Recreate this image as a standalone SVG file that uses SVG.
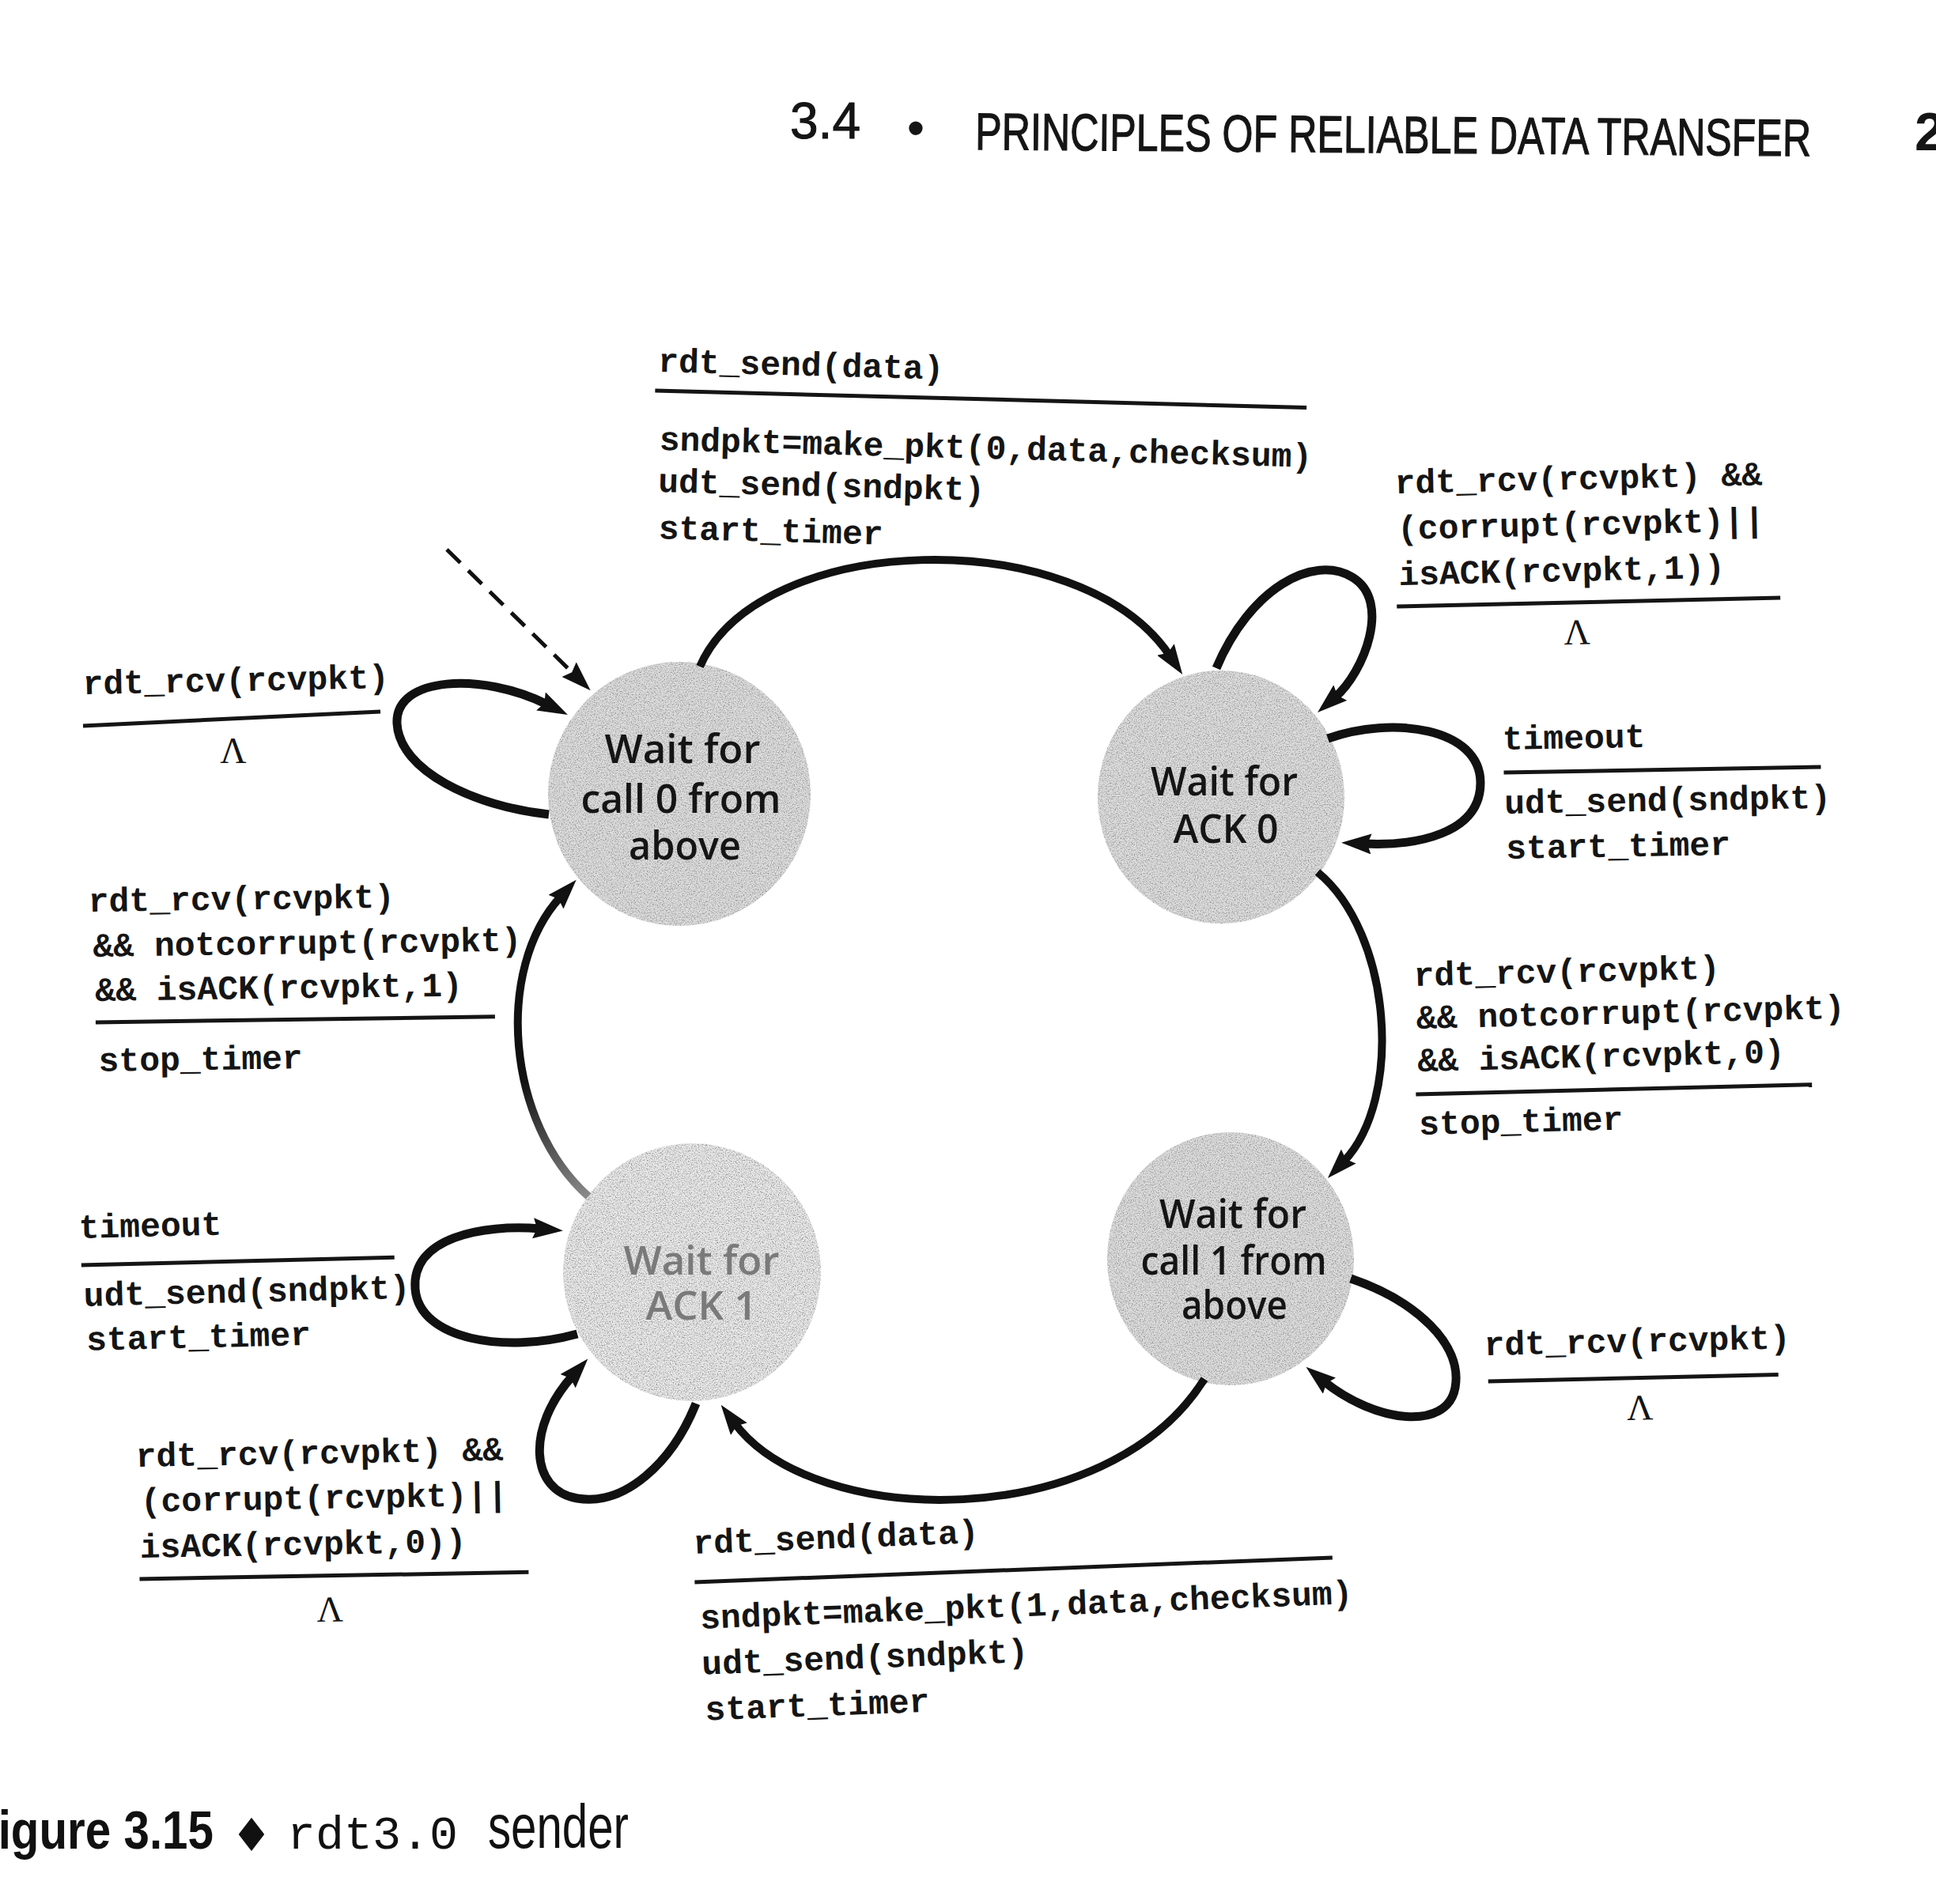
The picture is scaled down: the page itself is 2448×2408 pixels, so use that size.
<svg xmlns="http://www.w3.org/2000/svg" width="2448" height="2408" viewBox="0 0 2448 2408">
<style>
.mono{font-family:"Liberation Mono","DejaVu Sans Mono",monospace;font-size:43px;font-weight:bold;fill:#151515}
.lam{font-family:"Liberation Serif","DejaVu Serif",serif;font-size:46px;fill:#151515;text-anchor:middle}
.st{font-family:"Open Sans","Noto Sans","Liberation Sans",sans-serif;font-size:51px;font-weight:600;fill:#151515;text-anchor:middle}
.rule{stroke:#151515;stroke-width:5;fill:none}
.edge{fill:none;stroke:#111;stroke-width:10;stroke-linecap:butt}
.loop{fill:none;stroke:#111;stroke-width:11;stroke-linecap:butt}
.hdr{font-family:"Liberation Sans","Arial",sans-serif;fill:#151515}
</style>
<defs>
<marker id="ah" viewBox="0 0 38 26" markerWidth="38" markerHeight="26" refX="9" refY="13" orient="auto" markerUnits="userSpaceOnUse">
<path d="M0,0 L38,13 L0,26 L5,13 z" fill="#111"/>
</marker>
<filter id="grain" x="-5%" y="-5%" width="110%" height="110%">
<feTurbulence type="fractalNoise" baseFrequency="0.7" numOctaves="2" seed="7" result="noise"/>
<feColorMatrix in="noise" type="matrix" values="0 0 0 0 0.3 0 0 0 0 0.3 0 0 0 0 0.3 3 0 0 0 -1.3" result="specks"/>
<feComposite in="specks" in2="SourceGraphic" operator="in" result="clip"/>
<feMerge><feMergeNode in="SourceGraphic"/><feMergeNode in="clip"/></feMerge>
</filter>
<linearGradient id="fade" gradientUnits="userSpaceOnUse" x1="744" y1="1513" x2="675" y2="1360">
<stop offset="0" stop-color="#8a8a8a"/>
<stop offset="1" stop-color="#111"/>
</linearGradient>
</defs>
<rect width="2448" height="2408" fill="#fff"/>

<g id="header" class="hdr">
<text x="999" y="175" font-size="64" stroke="#151515" stroke-width="1">3.4</text>
<text x="1158" y="184" font-size="64" text-anchor="middle">•</text>
<text x="1233" y="189" font-size="66" stroke="#151515" stroke-width="1.2" textLength="1057" lengthAdjust="spacingAndGlyphs" transform="rotate(0.45 1233 189)">PRINCIPLES OF RELIABLE DATA TRANSFER</text>
<text x="2421" y="190" font-size="68" font-weight="bold">2</text>
</g>

<g id="nodes">
<g id="node-wait-call0">
<ellipse cx="859" cy="1004" rx="166" ry="167" fill="#dedede" filter="url(#grain)"/>
<text class="st" x="863" y="965" textLength="197" lengthAdjust="spacingAndGlyphs">Wait for</text>
<text class="st" x="861" y="1028" textLength="253" lengthAdjust="spacingAndGlyphs">call 0 from</text>
<text class="st" x="866" y="1087" textLength="142" lengthAdjust="spacingAndGlyphs">above</text>
</g>
<g id="node-wait-ack0">
<ellipse cx="1544" cy="1008" rx="156" ry="160" fill="#dedede" filter="url(#grain)"/>
<text class="st" x="1548" y="1006" textLength="186" lengthAdjust="spacingAndGlyphs">Wait for</text>
<text class="st" x="1550" y="1066" textLength="133" lengthAdjust="spacingAndGlyphs">ACK 0</text>
</g>
<g id="node-wait-ack1">
<ellipse cx="875" cy="1609" rx="163" ry="163" fill="#eaeaea" filter="url(#grain)"/>
<text class="st" x="887" y="1612" textLength="197" lengthAdjust="spacingAndGlyphs" style="fill:#7a7a7a">Wait for</text>
<text class="st" x="887" y="1669" textLength="141" lengthAdjust="spacingAndGlyphs" style="fill:#7a7a7a">ACK 1</text>
</g>
<g id="node-wait-call1">
<ellipse cx="1556" cy="1592" rx="156" ry="160" fill="#dedede" filter="url(#grain)"/>
<text class="st" x="1559" y="1553" textLength="186" lengthAdjust="spacingAndGlyphs">Wait for</text>
<text class="st" x="1560" y="1612" textLength="235" lengthAdjust="spacingAndGlyphs">call 1 from</text>
<text class="st" x="1561" y="1668" textLength="134" lengthAdjust="spacingAndGlyphs">above</text>
</g>
</g>

<g id="connectors">
<path id="e-call0-ack0" class="edge" d="M885,843 C960,671 1365,660 1479,829" marker-end="url(#ah)"/>
<path id="e-ack0-self-top" class="loop" d="M1538,845 C1580,745 1660,700 1710,730 C1760,760 1725,850 1688,882" marker-end="url(#ah)"/>
<path id="e-ack0-self-right" class="loop" d="M1679,934 C1760,905 1872,920 1872,990 C1872,1055 1790,1070 1725,1067" marker-end="url(#ah)"/>
<path id="e-ack0-call1" class="edge" d="M1666,1103 C1760,1180 1775,1390 1699,1469" marker-end="url(#ah)"/>
<path id="e-call1-self" class="loop" d="M1708,1617 C1790,1645 1850,1700 1840,1755 C1830,1810 1740,1800 1674,1747" marker-end="url(#ah)"/>
<path id="e-call1-ack1" class="edge" d="M1523,1744 C1400,1940 1030,1935 929,1800" marker-end="url(#ah)"/>
<path id="e-ack1-self-bottom" class="loop" d="M880,1775 C850,1850 790,1905 730,1895 C670,1885 665,1806 724,1740" marker-end="url(#ah)"/>
<path id="e-ack1-self-left" class="loop" d="M730,1687 C640,1712 530,1695 525,1630 C520,1565 610,1548 683,1554" marker-end="url(#ah)"/>
<path id="e-ack1-call0" class="edge" d="M744,1513 C640,1420 625,1225 709,1134" style="stroke:url(#fade)" marker-end="url(#ah)"/>
<path id="e-call0-self" class="loop" d="M694,1030 C600,1020 505,975 502,915 C499,855 610,850 692,891" marker-end="url(#ah)"/>
<path id="e-initial" d="M565,695 L726,853" fill="none" stroke="#111" stroke-width="5" stroke-dasharray="24,14" marker-end="url(#ah)"/>
</g>

<g id="labels">
<g id="lbl-call0-ack0" transform="rotate(1.5 830 470)">
<text class="mono" x="832" y="470">rdt_send(data)</text>
<line class="rule" x1="829" y1="494" x2="1653" y2="494"/>
<text class="mono" x="836" y="569">sndpkt=make_pkt(0,data,checksum)</text>
<text class="mono" x="836" y="622">udt_send(sndpkt)</text>
<text class="mono" x="838" y="681">start_timer</text>
</g>
<g id="lbl-ack0-self-top" transform="rotate(-1.3 1763 624)">
<text class="mono" x="1764" y="624">rdt_rcv(rcvpkt) &amp;&amp;</text>
<text class="mono" x="1766" y="682">(corrupt(rcvpkt)||</text>
<text class="mono" x="1766" y="740">isACK(rcvpkt,1))</text>
<line class="rule" x1="1763" y1="767" x2="2248" y2="767"/>
<text class="lam" x="1990" y="820">Λ</text>
</g>
<g id="lbl-ack0-self-right" transform="rotate(-1 1900 948)">
<text class="mono" x="1900" y="948">timeout</text>
<line class="rule" x1="1901" y1="977" x2="2302" y2="977"/>
<text class="mono" x="1901" y="1029">udt_send(sndpkt)</text>
<text class="mono" x="1902" y="1086">start_timer</text>
</g>
<g id="lbl-ack0-call1" transform="rotate(-1.4 1788 1247)">
<text class="mono" x="1788" y="1247">rdt_rcv(rcvpkt)</text>
<text class="mono" x="1790" y="1301">&amp;&amp; notcorrupt(rcvpkt)</text>
<text class="mono" x="1790" y="1355">&amp;&amp; isACK(rcvpkt,0)</text>
<line class="rule" x1="1787" y1="1384" x2="2288" y2="1384"/>
<text class="mono" x="1790" y="1435">stop_timer</text>
</g>
<g id="lbl-call1-self" transform="rotate(-1.3 1877 1714)">
<text class="mono" x="1877" y="1714">rdt_rcv(rcvpkt)</text>
<line class="rule" x1="1881" y1="1747" x2="2248" y2="1747"/>
<text class="lam" x="2072" y="1800">Λ</text>
</g>
<g id="lbl-call1-ack1" transform="rotate(-2.2 877 1965)">
<text class="mono" x="877" y="1965">rdt_send(data)</text>
<line class="rule" x1="877" y1="2001" x2="1684" y2="2001"/>
<text class="mono" x="882" y="2060">sndpkt=make_pkt(1,data,checksum)</text>
<text class="mono" x="882" y="2118">udt_send(sndpkt)</text>
<text class="mono" x="884" y="2176">start_timer</text>
</g>
<g id="lbl-ack1-self-bottom" transform="rotate(-1 172 1855)">
<text class="mono" x="172" y="1855">rdt_rcv(rcvpkt) &amp;&amp;</text>
<text class="mono" x="177" y="1912">(corrupt(rcvpkt)||</text>
<text class="mono" x="175" y="1970">isACK(rcvpkt,0))</text>
<line class="rule" x1="174" y1="1997" x2="666" y2="1997"/>
<text class="lam" x="414" y="2055">Λ</text>
</g>
<g id="lbl-ack1-self-left" transform="rotate(-1.4 100 1566)">
<text class="mono" x="100" y="1566">timeout</text>
<line class="rule" x1="102" y1="1600" x2="498" y2="1600"/>
<text class="mono" x="104" y="1652">udt_send(sndpkt)</text>
<text class="mono" x="106" y="1708">start_timer</text>
</g>
<g id="lbl-ack1-call0" transform="rotate(-0.8 112 1153)">
<text class="mono" x="112" y="1153">rdt_rcv(rcvpkt)</text>
<text class="mono" x="117" y="1210">&amp;&amp; notcorrupt(rcvpkt)</text>
<text class="mono" x="119" y="1266">&amp;&amp; isACK(rcvpkt,1)</text>
<line class="rule" x1="119" y1="1293" x2="624" y2="1293"/>
<text class="mono" x="122" y="1355">stop_timer</text>
</g>
<g id="lbl-call0-self">
<text class="mono" x="105" y="878" transform="rotate(-1.2 105 878)">rdt_rcv(rcvpkt)</text>
<line class="rule" x1="105" y1="918" x2="481" y2="900"/>
<text class="lam" x="295" y="965">Λ</text>
</g>
</g>

<g id="caption">
<text x="-38" y="2338" font-family="Liberation Sans, Arial, sans-serif" font-weight="bold" font-size="68" fill="#111" textLength="308" lengthAdjust="spacingAndGlyphs">Figure 3.15</text>
<text x="318" y="2341" font-family="DejaVu Sans, sans-serif" font-size="58" fill="#111" text-anchor="middle">♦</text>
<text x="363" y="2338" font-family="Liberation Mono, DejaVu Sans Mono, monospace" font-size="60" fill="#111">rdt3.0</text>
<text x="617" y="2337" font-family="Liberation Sans, Arial, sans-serif" font-size="78" fill="#111" textLength="178" lengthAdjust="spacingAndGlyphs">sender</text>
</g>
</svg>
